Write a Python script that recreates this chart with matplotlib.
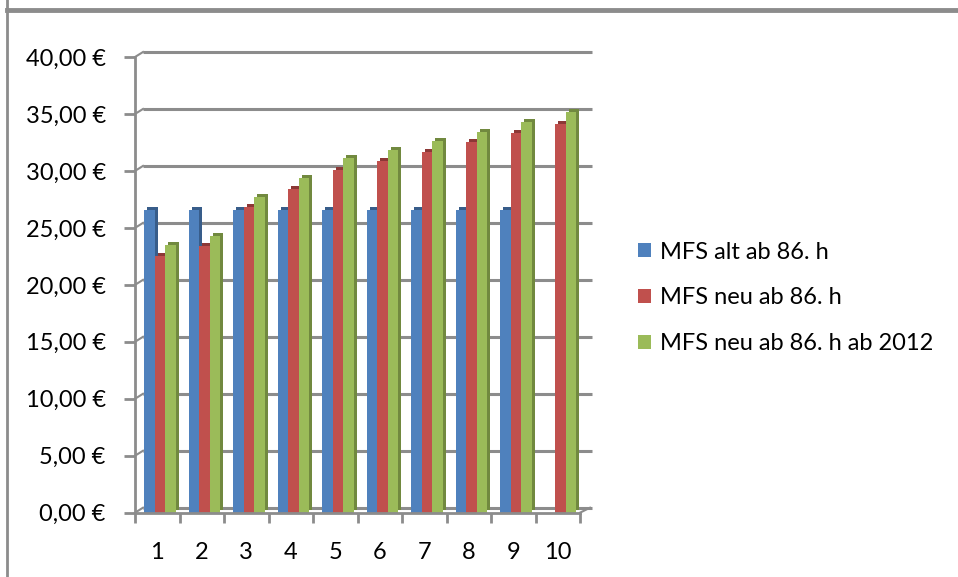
import numpy as np
import matplotlib
matplotlib.use("Agg")
import matplotlib.pyplot as plt
from matplotlib import transforms
from matplotlib.lines import Line2D

plt.rcParams['font.family'] = ['Lato', 'DejaVu Sans']

# Werte je Stufe
stufen = [1, 2, 3, 4, 5, 6, 7, 8, 9, 10]
mfs_alt = [26.6, 26.6, 26.6, 26.6, 26.6, 26.6, 26.6, 26.6, 26.6, np.nan]
mfs_neu = [22.5, 23.4, 26.8, 28.4, 30.1, 30.9, 31.7, 32.5, 33.3, 34.1]
mfs_neu_2012 = [23.5, 24.3, 27.7, 29.4, 31.1, 31.8, 32.6, 33.4, 34.3, 35.2]
namen = ['MFS alt ab 86. h', 'MFS neu ab 86. h', 'MFS neu ab 86. h ab 2012']

farben = ['#4F81BD', '#C0504D', '#9BBB59']
seiten = ['#385D8A', '#8C3836', '#71893F']
grau = '#8c8c8c'

fig = plt.figure(figsize=(9.58, 5.77), dpi=100)
ax = fig.add_axes([135 / 958, (577 - 512.7) / 577, 445 / 958, 455.7 / 577])
ax.set_xlim(0.5, 10.5)
ax.set_ylim(0, 40)

# Rückwand-Gitter, leicht nach hinten versetzt
tiefe = transforms.offset_copy(ax.get_yaxis_transform(), fig=fig, x=8, y=5, units='dots')
for v in range(0, 45, 5):
    ax.plot([0, 1.01], [v, v], transform=tiefe, color=grau, lw=2.2,
            solid_capstyle='butt', clip_on=False, zorder=1)

# kurze Schrägen von der Achse zur Rückwand
fig.canvas.draw()
x0 = ax.transAxes.transform((0, 0))[0]
for v in range(0, 45, 5):
    y0 = ax.transData.transform((0.5, v))[1]
    fig.add_artist(Line2D([x0 / 958, (x0 + 8) / 958], [y0 / 577, (y0 + 5) / 577],
                          color=grau, lw=1.5))
xr = ax.transAxes.transform((1, 0))[0]
y0 = ax.transData.transform((0.5, 0))[1]
fig.add_artist(Line2D([xr / 958, (xr + 10) / 958], [y0 / 577, (y0 + 5) / 577], color=grau, lw=1.5))

# Säulen mit dunkler Seite für den Tiefeneffekt
x = np.arange(len(stufen)) + 1
breite = 0.235
versatz = transforms.offset_copy(ax.transData, fig=fig, x=3, y=3, units='dots')
for i, (werte, f, s) in enumerate(zip([mfs_alt, mfs_neu, mfs_neu_2012], farben, seiten)):
    pos = x + 0.06 + (i - 1) * breite
    ax.bar(pos, werte, width=breite, color=s, transform=versatz, zorder=2)
    ax.bar(pos, werte, width=breite, color=f, zorder=3, label=namen[i])

for sp in ['top', 'right']:
    ax.spines[sp].set_visible(False)
for sp in ['left', 'bottom']:
    ax.spines[sp].set_color(grau)
    ax.spines[sp].set_linewidth(2)
    ax.spines[sp].set_zorder(4)

ax.set_yticks(range(0, 45, 5))
ax.set_yticklabels([f'{v},00 €' for v in range(0, 45, 5)])
ax.set_xticks(x)
ax.set_xticklabels([str(s) for s in stufen])
ax.set_xticks(np.arange(0.5, 11, 1), minor=True)
ax.tick_params(axis='y', length=8, width=2, color=grau, labelsize=17, pad=13)
ax.tick_params(axis='x', which='major', length=0, labelsize=17, pad=21)
ax.tick_params(axis='x', which='minor', length=7, width=2, color=grau)

ax.legend(loc='center left', bbox_to_anchor=(638 / 958, 1 - 298 / 577), bbox_transform=fig.transFigure,
          frameon=False, fontsize=17, handlelength=0.55, handleheight=0.55, handletextpad=0.4,
          labelspacing=1.05, borderaxespad=0, borderpad=0)

# Rahmen links und oben
fig.add_artist(Line2D([7 / 958, 7 / 958], [0, 1], color=grau, lw=2))
fig.add_artist(Line2D([7 / 958, 1], [1 - 10 / 577, 1 - 10 / 577], color=grau, lw=3.5))

fig.savefig('out.png', dpi=100)
